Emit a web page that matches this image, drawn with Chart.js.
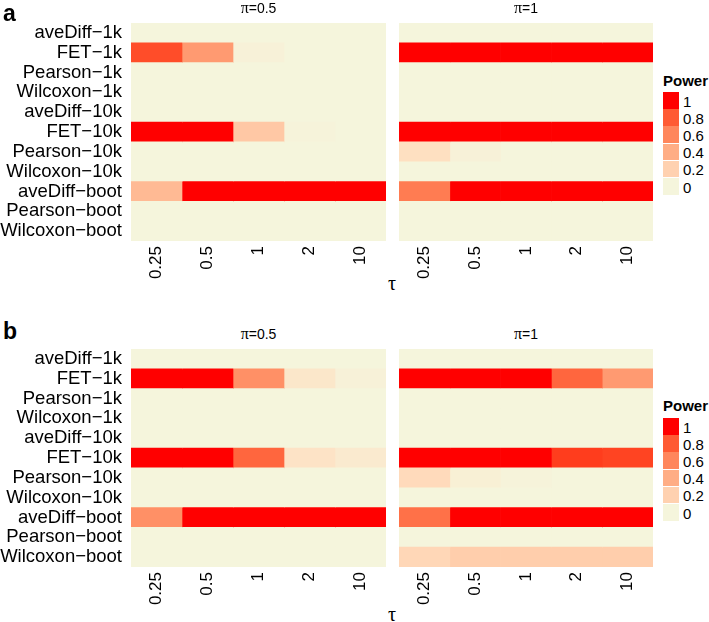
<!DOCTYPE html>
<html>
<head>
<meta charset="utf-8">
<script src="https://cdn.jsdelivr.net/npm/chart.js@4.4.1/dist/chart.umd.min.js"></script>
<style>
  body { margin: 0; background: #fff; }
  #wrap { position: relative; width: 709px; height: 622px; overflow: hidden;
          font-family: "Liberation Sans", Arial, Helvetica, sans-serif; color: #000; }
  canvas { position: absolute; }
  .txt { position: absolute; white-space: nowrap; line-height: 1; }
  .panel { font-weight: bold; font-size: 23px; }
  .facet { font-size: 14px; transform: translate(-50%, -50%); }
  .pi { font-family: "Liberation Serif", serif; font-size: 16px; }
  .tau { font-family: "Liberation Serif", serif; font-size: 20px; transform: translate(-50%, -50%); }
  .legTitle { font-weight: bold; font-size: 15px; transform: translateY(-50%); }
  .legBox { position: absolute; width: 16px; }
  .legLab { font-size: 15px; transform: translateY(-50%); }
</style>
</head>
<body>
<div id="wrap"></div>
<script>
"use strict";

// ---- data ----
const rowLabels = ["aveDiff\u22121k", "FET\u22121k", "Pearson\u22121k", "Wilcoxon\u22121k",
                   "aveDiff\u221210k", "FET\u221210k", "Pearson\u221210k", "Wilcoxon\u221210k",
                   "aveDiff\u2212boot", "Pearson\u2212boot", "Wilcoxon\u2212boot"];
const tauLabels = ["0.25", "0.5", "1", "2", "10"];
const legendBreaks = [1, 0.8, 0.6, 0.4, 0.2, 0];

// panel a, pi = 0.5 (rows x tau)
const powerA_pi05 = [
    [0, 0, 0, 0, 0],
    [0.85, 0.5, 0.02, 0, 0],
    [0, 0, 0, 0, 0],
    [0, 0, 0, 0, 0],
    [0, 0, 0, 0, 0],
    [1, 1, 0.25, 0.01, 0],
    [0, 0, 0, 0, 0],
    [0, 0, 0, 0, 0],
    [0.33, 1, 1, 1, 1],
    [0, 0, 0, 0, 0],
    [0, 0, 0, 0, 0]
];
// panel a, pi = 1
const powerA_pi1 = [
    [0, 0, 0, 0, 0],
    [1, 1, 1, 1, 1],
    [0, 0, 0, 0, 0],
    [0, 0, 0, 0, 0],
    [0, 0, 0, 0, 0],
    [1, 1, 1, 1, 1],
    [0.12, 0.02, 0, 0, 0],
    [0, 0, 0, 0, 0],
    [0.65, 1, 1, 1, 1],
    [0, 0, 0, 0, 0],
    [0, 0, 0, 0, 0]
];
// panel b, pi = 0.5
const powerB_pi05 = [
    [0, 0, 0, 0, 0],
    [1, 1, 0.55, 0.08, 0.02],
    [0, 0, 0, 0, 0],
    [0, 0, 0, 0, 0],
    [0, 0, 0, 0, 0],
    [1, 1, 0.75, 0.1, 0.06],
    [0, 0, 0, 0, 0],
    [0, 0, 0, 0, 0],
    [0.55, 1, 1, 1, 1],
    [0, 0, 0, 0, 0],
    [0, 0, 0, 0, 0]
];
// panel b, pi = 1
const powerB_pi1 = [
    [0, 0, 0, 0, 0],
    [1, 1, 1, 0.75, 0.5],
    [0, 0, 0, 0, 0],
    [0, 0, 0, 0, 0],
    [0, 0, 0, 0, 0],
    [1, 1, 1, 0.9, 0.88],
    [0.15, 0.03, 0.01, 0, 0],
    [0, 0, 0, 0, 0],
    [0.7, 1, 1, 1, 1],
    [0, 0, 0, 0, 0],
    [0.17, 0.22, 0.22, 0.22, 0.22]
];

// ---- colour scale: beige -> red, interpolated in Lab like ggplot ----
function hexToRgb(h) {
    return [parseInt(h.slice(1, 3), 16), parseInt(h.slice(3, 5), 16), parseInt(h.slice(5, 7), 16)];
}
function rgbToLab(rgb) {
    const lin = rgb.map(c => { c /= 255; return c <= 0.04045 ? c / 12.92 : Math.pow((c + 0.055) / 1.055, 2.4); });
    const X = (0.4124 * lin[0] + 0.3576 * lin[1] + 0.1805 * lin[2]) / 0.95047;
    const Y = (0.2126 * lin[0] + 0.7152 * lin[1] + 0.0722 * lin[2]);
    const Z = (0.0193 * lin[0] + 0.1192 * lin[1] + 0.9505 * lin[2]) / 1.08883;
    const f = t => t > 0.008856 ? Math.cbrt(t) : 7.787 * t + 16 / 116;
    return [116 * f(Y) - 16, 500 * (f(X) - f(Y)), 200 * (f(Y) - f(Z))];
}
function labToRgb(lab) {
    const fy = (lab[0] + 16) / 116, fx = fy + lab[1] / 500, fz = fy - lab[2] / 200;
    const inv = t => t > 0.206893 ? t * t * t : (t - 16 / 116) / 7.787;
    const X = inv(fx) * 0.95047, Y = inv(fy), Z = inv(fz) * 1.08883;
    const lin = [
        3.2406 * X - 1.5372 * Y - 0.4986 * Z,
        -0.9689 * X + 1.8758 * Y + 0.0415 * Z,
        0.0557 * X - 0.2040 * Y + 1.0570 * Z
    ];
    return lin.map(c => {
        c = c <= 0.0031308 ? 12.92 * c : 1.055 * Math.pow(c, 1 / 2.4) - 0.055;
        return Math.round(Math.min(1, Math.max(0, c)) * 255);
    });
}
const LOW = rgbToLab(hexToRgb("#F5F5DC"));
const HIGH = rgbToLab(hexToRgb("#FF0000"));
function powerColor(v) {
    const lab = LOW.map((l, i) => l + (HIGH[i] - l) * v);
    const c = labToRgb(lab);
    return `rgb(${c[0]},${c[1]},${c[2]})`;
}

// ---- layout ----
const FONT = "'Liberation Sans', Arial, Helvetica, sans-serif";
const wrap = document.getElementById("wrap");

function addText(cls, html, x, y) {
    const d = document.createElement("div");
    d.className = "txt " + cls;
    d.innerHTML = html;
    d.style.left = x + "px";
    d.style.top = y + "px";
    wrap.appendChild(d);
    return d;
}

function makeFacet(values, left, top, plotW, plotH, yAxisW, showRows) {
    const xAxisH = 45;
    const cv = document.createElement("canvas");
    const w = yAxisW + plotW, h = plotH + xAxisH;
    cv.width = w; cv.height = h;
    cv.style.left = left + "px"; cv.style.top = top + "px";
    cv.style.width = w + "px"; cv.style.height = h + "px";
    wrap.appendChild(cv);

    const datasets = tauLabels.map((t, j) => ({
        label: t,
        data: rowLabels.map(() => [j, j + 1]),
        backgroundColor: values.map(r => powerColor(r[j])),
        borderWidth: 0,
        barPercentage: 1,
        categoryPercentage: 1,
        grouped: false
    }));

    return new Chart(cv, {
        type: "bar",
        data: { labels: rowLabels, datasets },
        options: {
            indexAxis: "y",
            responsive: false,
            animation: false,
            layout: { padding: 0 },
            plugins: { legend: { display: false }, tooltip: { enabled: false } },
            scales: {
                y: {
                    type: "category",
                    display: showRows,
                    grid: { display: false, drawTicks: false },
                    border: { display: false },
                    ticks: { autoSkip: false, padding: 9, color: "#000", font: { family: FONT, size: 18.5 } },
                    afterFit: s => { s.width = yAxisW; s.paddingTop = 0; s.paddingBottom = 0; }
                },
                x: {
                    type: "linear",
                    min: 0, max: 5,
                    grid: { display: false, drawTicks: false },
                    border: { display: false },
                    afterBuildTicks: s => { s.ticks = tauLabels.map((t, i) => ({ value: i + 0.5 })); },
                    ticks: {
                        autoSkip: false, minRotation: 90, maxRotation: 90, padding: 5,
                        color: "#000", font: { family: FONT, size: 17 },
                        callback: v => tauLabels[Math.round(v - 0.5)]
                    },
                    afterFit: s => { s.height = xAxisH; s.paddingLeft = 0; s.paddingRight = 0; }
                }
            }
        }
    });
}

function makeLegend(titleY, boxTop) {
    addText("legTitle", "Power", 663, titleY);
    const bh = 17.2;
    legendBreaks.forEach((b, i) => {
        const box = document.createElement("div");
        box.className = "legBox";
        box.style.left = "663px";
        box.style.top = (boxTop + i * bh) + "px";
        box.style.height = (bh - 0.6) + "px";
        box.style.background = powerColor(b);
        wrap.appendChild(box);
        addText("legLab", String(b), 683, boxTop + i * bh + bh / 2);
    });
}

function makePanel(letter, valsLeft, valsRight, plotTop, letterTop, facetTitleY, tauY, legTitleY, legTop) {
    const plotH = 218;
    makeFacet(valsLeft, 0, plotTop, 255, plotH, 131, true);
    makeFacet(valsRight, 399, plotTop, 254, plotH, 0, false);
    addText("panel", letter, 3, letterTop);
    addText("facet", '<span class="pi">\u03c0</span>=0.5', 258.5, facetTitleY);
    addText("facet", '<span class="pi">\u03c0</span>=1', 526, facetTitleY);
    addText("tau", "\u03c4", 392, tauY);
    makeLegend(legTitleY, legTop);
}

makePanel("a", powerA_pi05, powerA_pi1, 23, 2, 8, 283, 80, 92);
makePanel("b", powerB_pi05, powerB_pi1, 349, 320, 334, 614, 405, 418);
</script>
</body>
</html>
